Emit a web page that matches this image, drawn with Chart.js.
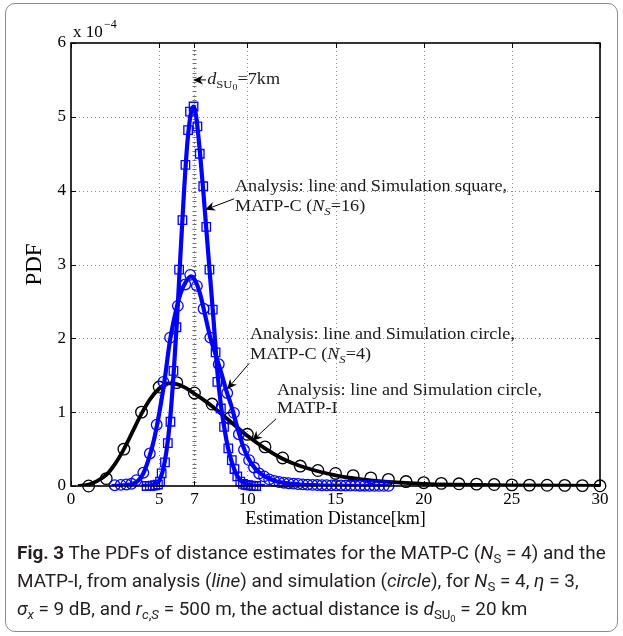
<!DOCTYPE html>
<html lang="en">
<head>
<meta charset="UTF-8">
<title>PDFs of distance estimates</title>
<script src="https://cdn.jsdelivr.net/npm/chart.js"></script>
<style>
    body { margin: 0; background: #fff; }
    .figure-box {
        position: absolute; left: 5px; top: 3px;
        width: 611px; height: 627px;
        border: 1.5px solid #8c8c8c; border-radius: 10px;
    }
    #pdfChart { position: absolute; left: 0; top: 0; }
    .caption {
        position: absolute; left: 17px; top: 539px;
        font-family: Roboto, "Open Sans", sans-serif; font-size: 17px;
        line-height: 28px; color: #231f20;
    }
    .cap-line { width: max-content; white-space: nowrap; }
    .caption b { font-weight: 700; }
    .caption sub { font-size: 0.7em; vertical-align: -0.3em; line-height: 0; }
</style>
</head>
<body>
<div class="figure-box"></div>
<canvas id="pdfChart" width="623" height="540"></canvas>
<div class="caption">
    <div class="cap-line" id="capFirst"><b>Fig. 3</b> The PDFs of distance estimates for the MATP-C (<i>N</i><sub>S</sub> = 4) and the</div>
    <div class="cap-line">MATP-I, from analysis (<i>line</i>) and simulation (<i>circle</i>), for <i>N</i><sub>S</sub> = 4, <i>η</i> = 3,</div>
    <div class="cap-line"><i>σ<sub>x</sub></i> = 9 dB, and <i>r</i><sub><i>c</i>,<i>S</i></sub> = 500 m, the actual distance is <i>d</i><sub>SU<sub>0</sub></sub> = 20 km</div>
</div>

<script>
// all PDF values are in units of 1e-4 (the axis multiplier)
const xTickValues = [0, 5, 7, 10, 15, 20, 25, 30];
const yTickValues = [0, 1, 2, 3, 4, 5, 6];
const gridX = [5, 10, 15, 20, 25];
const gridY = [1, 2, 3, 4, 5];
const trueDistance = 7;

// MATP-I: analysis line + simulation circles
const matpiLineX = [0.4, 1, 1.5, 2, 2.5, 3, 3.5, 4, 4.5, 5, 5.5, 6, 6.5, 7, 7.5, 8, 9, 10, 11, 12, 13, 14, 15, 16, 17, 18, 20, 22, 25, 30];
const matpiLineY = [0, 0.02, 0.07, 0.15, 0.3, 0.5, 0.74, 0.98, 1.18, 1.32, 1.39, 1.38, 1.33, 1.25, 1.17, 1.08, 0.88, 0.68, 0.51, 0.37, 0.27, 0.2, 0.145, 0.105, 0.075, 0.055, 0.03, 0.018, 0.008, 0.002];
const matpiSimX = [1, 2, 3, 4, 5, 6, 7, 8, 9, 10, 11, 12, 13, 14, 15, 16, 17, 18, 19, 20, 21, 22, 23, 24, 25, 26, 27, 28, 29, 30];
const matpiSimY = [0, 0.1, 0.5, 1.0, 1.34, 1.4, 1.26, 1.11, 0.92, 0.7, 0.53, 0.38, 0.27, 0.21, 0.17, 0.14, 0.11, 0.09, 0.06, 0.045, 0.035, 0.03, 0.025, 0.02, 0.015, 0.012, 0.01, 0.008, 0.005, 0.003];

// MATP-C, N_S = 4: analysis line + simulation circles
const c4LineX = [2.3, 3.0, 3.5, 3.8, 4.1, 4.4, 4.7, 5.0, 5.3, 5.6, 5.9, 6.2, 6.5, 6.8, 7.0, 7.3, 7.6, 7.9, 8.2, 8.5, 8.8, 9.1, 9.4, 9.7, 10.0, 10.5, 11.0, 11.5, 12, 13, 14, 15, 16, 18];
const c4LineY = [0, 0.01, 0.03, 0.07, 0.17, 0.36, 0.62, 0.98, 1.42, 1.95, 2.32, 2.6, 2.76, 2.84, 2.8, 2.62, 2.32, 2.01, 1.78, 1.55, 1.3, 1.08, 0.82, 0.58, 0.4, 0.22, 0.13, 0.075, 0.045, 0.02, 0.01, 0.005, 0.002, 0];
const c4SimX = [2.48, 2.82, 3.14, 3.43, 3.71, 4.1, 4.47, 4.86, 5.24, 5.62, 6.06, 6.48, 6.76, 7.14, 7.52, 7.9, 8.38, 8.86, 9.24, 9.52, 9.81, 10.1, 10.38, 10.67, 10.95, 11.24, 11.52, 11.8, 12.07, 12.34, 12.61, 12.88, 13.15, 13.42, 13.69, 13.96, 14.23, 14.5, 14.77, 15.04, 15.31, 15.58, 15.85, 16.12, 16.39, 16.66, 16.93, 17.2, 17.47, 17.74, 18.01];
const c4SimY = [0.01, 0.015, 0.02, 0.03, 0.08, 0.18, 0.44, 0.83, 1.41, 2.01, 2.44, 2.73, 2.86, 2.71, 2.4, 2.01, 1.65, 1.26, 0.99, 0.7, 0.49, 0.35, 0.25, 0.17, 0.13, 0.09, 0.07, 0.055, 0.045, 0.038, 0.032, 0.027, 0.022, 0.018, 0.015, 0.013, 0.011, 0.01, 0.009, 0.008, 0.007, 0.006, 0.005, 0.005, 0.004, 0.004, 0.003, 0.003, 0.002, 0.002, 0.002];

// MATP-C, N_S = 16: analysis line + simulation squares
const c16LineX = [4.0, 4.5, 4.8, 5.0, 5.2, 5.4, 5.6, 5.8, 6.0, 6.2, 6.4, 6.6, 6.8, 6.95, 7.1, 7.3, 7.5, 7.7, 7.9, 8.1, 8.3, 8.5, 8.7, 8.9, 9.1, 9.3, 9.5, 9.8, 10.2, 11];
const c16LineY = [0, 0.005, 0.03, 0.07, 0.2, 0.45, 0.85, 1.45, 2.2, 3.1, 3.95, 4.65, 5.05, 5.14, 5.0, 4.55, 4.0, 3.4, 2.8, 2.2, 1.55, 1.1, 0.78, 0.52, 0.34, 0.2, 0.11, 0.04, 0.01, 0];
const c16SimX = [4.29, 4.47, 4.63, 4.78, 4.93, 5.05, 5.14, 5.33, 5.49, 5.64, 5.81, 5.98, 6.13, 6.32, 6.49, 6.64, 6.75, 6.95, 7.17, 7.3, 7.5, 7.67, 7.85, 8.04, 8.2, 8.3, 8.5, 8.68, 8.92, 9.12, 9.27, 9.43, 9.6, 9.75, 9.9, 10.05, 10.2, 10.35, 10.5];
const c16SimY = [0, 0, 0.005, 0.01, 0.02, 0.06, 0.17, 0.32, 0.58, 0.87, 1.56, 2.15, 2.93, 3.6, 4.35, 4.82, 5.07, 5.14, 4.87, 4.5, 4.06, 3.51, 2.93, 2.39, 1.81, 1.41, 1.05, 0.8, 0.51, 0.35, 0.23, 0.13, 0.06, 0.03, 0.015, 0.01, 0.005, 0, 0];

const BLUE = '#0000ff';
const SERIF = '"Liberation Serif", "Times New Roman", serif';
const pts = (xs, ys) => xs.map((x, i) => ({ x: x, y: ys[i] }));

// text pieces: [text, italic, subLevel]
const notes = [
    { x: 9.3, y1: 4.05, y2: 3.78, tail: [9.25, 3.89], head: [7.6, 3.74],
      l1: [['Analysis: line and Simulation square,', 0, 0]],
      l2: [['MATP-C (', 0, 0], ['N', 1, 0], ['S', 1, 1], ['=16)', 0, 0]] },
    { x: 10.15, y1: 2.05, y2: 1.78, tail: [10.1, 1.66], head: [8.85, 1.31],
      l1: [['Analysis: line and Simulation circle,', 0, 0]],
      l2: [['MATP-C (', 0, 0], ['N', 1, 0], ['S', 1, 1], ['=4)', 0, 0]] },
    { x: 11.68, y1: 1.29, y2: 1.05, tail: [11.63, 0.91], head: [10.27, 0.61],
      l1: [['Analysis: line and Simulation circle,', 0, 0]],
      l2: [['MATP-I', 0, 0]] }
];

function drawRich(ctx, parts, x, y, size, sx) {
    ctx.save();
    ctx.translate(x, y);
    ctx.scale(sx, 1);
    ctx.textBaseline = 'middle';
    ctx.textAlign = 'left';
    ctx.fillStyle = '#1a1a1a';
    let cx = 0;
    parts.forEach(([t, it, sub]) => {
        const fs = size * [1, 0.7, 0.55][sub];
        ctx.font = (it ? 'italic ' : '') + fs + 'px ' + SERIF;
        ctx.fillText(t, cx, size * [0, 0.32, 0.5][sub]);
        cx += ctx.measureText(t).width;
    });
    ctx.restore();
}

function arrow(ctx, x1, y1, x2, y2) {
    const ang = Math.atan2(y2 - y1, x2 - x1);
    ctx.save();
    ctx.strokeStyle = '#000';
    ctx.fillStyle = '#000';
    ctx.lineWidth = 1;
    ctx.beginPath();
    ctx.moveTo(x1, y1);
    ctx.lineTo(x2 - 6 * Math.cos(ang), y2 - 6 * Math.sin(ang));
    ctx.stroke();
    ctx.translate(x2, y2);
    ctx.rotate(ang);
    ctx.beginPath();
    ctx.moveTo(0, 0);
    ctx.lineTo(-10, -4.5);
    ctx.lineTo(-7, 0);
    ctx.lineTo(-10, 4.5);
    ctx.closePath();
    ctx.fill();
    ctx.restore();
}

const matlabAxes = {
    id: 'matlabAxes',
    beforeDatasetsDraw(chart) {
        const { ctx, chartArea: a, scales: { x, y } } = chart;
        ctx.save();
        ctx.strokeStyle = '#8a8a8a';
        ctx.lineWidth = 1;
        ctx.setLineDash([1, 3]);
        ctx.beginPath();
        gridX.forEach(v => {
            const px = Math.round(x.getPixelForValue(v)) + 0.5;
            ctx.moveTo(px, a.top); ctx.lineTo(px, a.bottom);
        });
        gridY.forEach(v => {
            const py = Math.round(y.getPixelForValue(v)) + 0.5;
            ctx.moveTo(a.left, py); ctx.lineTo(a.right, py);
        });
        ctx.stroke();

        // marker line at the true distance
        const mx = Math.round(x.getPixelForValue(trueDistance)) + 0.5;
        ctx.strokeStyle = '#999';
        ctx.setLineDash([1, 3]);
        ctx.beginPath();
        ctx.moveTo(mx, a.top); ctx.lineTo(mx, a.bottom);
        ctx.stroke();
        ctx.setLineDash([]);
        ctx.strokeStyle = '#707070';
        ctx.beginPath();
        for (let py = a.bottom - 4; py > a.top + 2; py -= 4.6) {
            const yy = Math.round(py) + 0.5;
            ctx.moveTo(mx - 2, yy); ctx.lineTo(mx + 2, yy);
        }
        ctx.stroke();
        ctx.restore();
    },
    afterDatasetsDraw(chart) {
        const { ctx, chartArea: a, scales: { x, y } } = chart;
        ctx.save();
        ctx.strokeStyle = '#000';
        ctx.lineWidth = 1.6;
        ctx.strokeRect(a.left, a.top, a.right - a.left, a.bottom - a.top);
        ctx.lineWidth = 1;
        ctx.beginPath();
        xTickValues.forEach(v => {
            const px = Math.round(x.getPixelForValue(v)) + 0.5;
            ctx.moveTo(px, a.bottom); ctx.lineTo(px, a.bottom - 5);
            ctx.moveTo(px, a.top); ctx.lineTo(px, a.top + 5);
        });
        yTickValues.forEach(v => {
            const py = Math.round(y.getPixelForValue(v)) + 0.5;
            ctx.moveTo(a.left, py); ctx.lineTo(a.left + 5, py);
            ctx.moveTo(a.right, py); ctx.lineTo(a.right - 5, py);
        });
        ctx.stroke();

        // axis multiplier
        ctx.fillStyle = '#000';
        ctx.textBaseline = 'middle';
        ctx.font = '17px ' + SERIF;
        ctx.fillText('x 10', a.left + 2, a.top - 10);
        ctx.font = '12px ' + SERIF;
        ctx.fillText('\u22124', a.left + 33, a.top - 18);

        // annotations
        const size = 16;
        ctx.font = size + 'px ' + SERIF;
        const sx = 265 / ctx.measureText('Analysis: line and Simulation circle,').width;
        notes.forEach(n => {
            const tx = x.getPixelForValue(n.x);
            drawRich(ctx, n.l1, tx, y.getPixelForValue(n.y1), size, sx);
            drawRich(ctx, n.l2, tx, y.getPixelForValue(n.y2), size, sx);
            arrow(ctx, x.getPixelForValue(n.tail[0]), y.getPixelForValue(n.tail[1]),
                x.getPixelForValue(n.head[0]), y.getPixelForValue(n.head[1]));
        });
        const dy = y.getPixelForValue(5.5);
        arrow(ctx, x.getPixelForValue(7.66), dy, x.getPixelForValue(6.92), dy);
        drawRich(ctx, [['d', 1, 0], ['SU', 0, 1], ['0', 0, 2], ['=7km', 0, 0]],
            x.getPixelForValue(7.72), dy, 16, sx);
        ctx.restore();
    }
};

const ctx = document.getElementById('pdfChart').getContext('2d');
const pdfChart = new Chart(ctx, {
    type: 'line',
    data: {
        datasets: [
            {
                label: 'Simulation, MATP-C (N_S=16)',
                data: pts(c16SimX, c16SimY),
                showLine: false, pointStyle: 'rect', pointRadius: 6,
                pointBorderColor: BLUE, pointBackgroundColor: 'rgba(0,0,0,0)', pointBorderWidth: 1.3,
                clip: false
            },
            {
                label: 'Analysis, MATP-C (N_S=16)',
                data: pts(c16LineX, c16LineY),
                borderColor: BLUE, borderWidth: 4.2, pointRadius: 0,
                cubicInterpolationMode: 'monotone'
            },
            {
                label: 'Simulation, MATP-C (N_S=4)',
                data: pts(c4SimX, c4SimY),
                showLine: false, pointStyle: 'circle', pointRadius: 5.3,
                pointBorderColor: BLUE, pointBackgroundColor: 'rgba(0,0,0,0)', pointBorderWidth: 1.3,
                clip: false
            },
            {
                label: 'Analysis, MATP-C (N_S=4)',
                data: pts(c4LineX, c4LineY),
                borderColor: BLUE, borderWidth: 4.2, pointRadius: 0,
                cubicInterpolationMode: 'monotone'
            },
            {
                label: 'Simulation, MATP-I',
                data: pts(matpiSimX, matpiSimY),
                showLine: false, pointStyle: 'circle', pointRadius: 5.8,
                pointBorderColor: '#000', pointBackgroundColor: 'rgba(0,0,0,0)', pointBorderWidth: 1.3,
                clip: false
            },
            {
                label: 'Analysis, MATP-I',
                data: pts(matpiLineX, matpiLineY),
                borderColor: '#000', borderWidth: 3.8, pointRadius: 0,
                cubicInterpolationMode: 'monotone'
            }
        ]
    },
    options: {
        responsive: false,
        animation: false,
        events: [],
        layout: { padding: { left: 0, right: 23, top: 43, bottom: 0 } },
        plugins: { legend: { display: false }, tooltip: { enabled: false } },
        scales: {
            x: {
                type: 'linear', min: 0, max: 30,
                afterBuildTicks: s => { s.ticks = xTickValues.map(v => ({ value: v })); },
                afterFit: s => { s.height = 54; },
                grid: { display: false, drawTicks: false },
                border: { display: false },
                ticks: { color: '#000', padding: 3, maxRotation: 0, autoSkip: false, font: { family: SERIF, size: 17 } },
                title: { display: true, text: 'Estimation Distance[km]', color: '#000',
                    font: { family: SERIF, size: 18 }, padding: { top: 0, bottom: 10 } }
            },
            y: {
                min: 0, max: 6,
                afterBuildTicks: s => { s.ticks = yTickValues.map(v => ({ value: v })); },
                afterFit: s => { s.width = 71; },
                grid: { display: false, drawTicks: false },
                border: { display: false },
                ticks: { color: '#000', padding: 5, font: { family: SERIF, size: 17 } },
                title: { display: true, text: 'PDF', color: '#000',
                    font: { family: SERIF, size: 23 }, padding: { top: 21, bottom: 0 } }
            }
        }
    },
    plugins: [matlabAxes]
});

// fit the caption to the width of the printed caption
document.fonts.ready.then(() => {
    const w = document.getElementById('capFirst').getBoundingClientRect().width;
    document.querySelector('.caption').style.fontSize = (17 * 589 / w) + 'px';
});
</script>
</body>
</html>
